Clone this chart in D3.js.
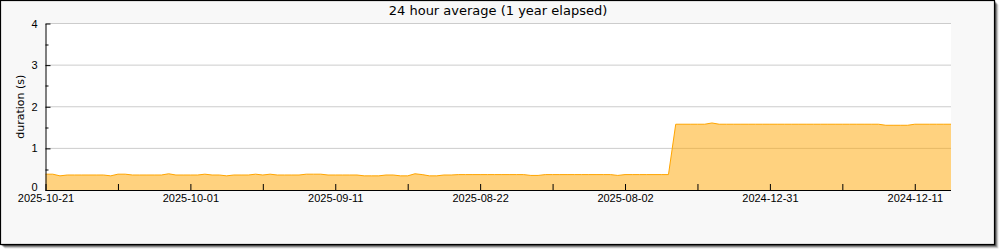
<!DOCTYPE html>
<html>
<head>
<meta charset="utf-8">
<script src="https://cdn.jsdelivr.net/npm/d3@7"></script>
<style>
  body { margin: 0; background: #fff; }
  svg { display: block; font-family: "DejaVu Sans", sans-serif; }
</style>
</head>
<body>
<svg width="1000" height="250"></svg>
<script>
// days elapsed counted from the newest sample (left edge)
var values = [
    0.38, 0.38, 0.34, 0.36, 0.36, 0.36, 0.36, 0.36, 0.36, 0.34,
    0.38, 0.38, 0.36, 0.36, 0.36, 0.36, 0.36, 0.39, 0.36, 0.36,
    0.36, 0.36, 0.38, 0.36, 0.36, 0.34, 0.36, 0.36, 0.36, 0.38,
    0.36, 0.38, 0.36, 0.36, 0.36, 0.36, 0.38, 0.38, 0.38, 0.36,
    0.36, 0.36, 0.36, 0.36, 0.34, 0.34, 0.34, 0.36, 0.36, 0.34,
    0.34, 0.39, 0.37, 0.34, 0.34, 0.36, 0.36, 0.37, 0.37, 0.37,
    0.37, 0.37, 0.37, 0.37, 0.37, 0.37, 0.37, 0.35, 0.35, 0.37,
    0.37, 0.37, 0.37, 0.37, 0.37, 0.37, 0.37, 0.37, 0.37, 0.35,
    0.37, 0.37, 0.37, 0.37, 0.37, 0.37, 0.37, 1.58, 1.58, 1.58,
    1.58, 1.58, 1.61, 1.58, 1.58, 1.58, 1.58, 1.58, 1.58, 1.58,
    1.58, 1.58, 1.58, 1.58, 1.58, 1.58, 1.58, 1.58, 1.58, 1.58,
    1.58, 1.58, 1.58, 1.58, 1.58, 1.58, 1.555, 1.555, 1.555, 1.555,
    1.58, 1.58, 1.58, 1.58, 1.58, 1.58
];
var days = values.map(function(v, i) { return i; });

var xTickDays = [0, 10, 20, 30, 40, 50, 60, 70, 80, 90, 100, 110, 120];
var xTickLabels = ["2025-10-21", "", "2025-10-01", "", "2025-09-11", "", "2025-08-22",
                   "", "2025-08-02", "", "2024-12-31", "", "2024-12-11"];
var yTicks = [0, 1, 2, 3, 4];
var yMinorTicks = [0.5, 1.5, 2.5, 3.5];

var data = days.map(function(d, i) { return {day: d, v: values[i]}; });

var svg = d3.select("svg"),
    margin = {top: 23.5, right: 49, bottom: 60, left: 45.5},
    width = 951 - margin.left,
    height = 190 - margin.top;

// frame with shadow
[4, 3, 2, 1].forEach(function(o) {
    svg.append("rect")
        .attr("x", 0.5 + o).attr("y", 0.5 + o)
        .attr("width", 994).attr("height", 244)
        .attr("fill", "#000")
        .attr("opacity", 0.12 * (5 - o));
});
svg.append("rect")
    .attr("x", 0.5).attr("y", 0.5)
    .attr("width", 994).attr("height", 244)
    .attr("fill", "#f8f8f8")
    .attr("stroke", "#000")
    .attr("stroke-width", 1.2);

var x = d3.scaleLinear().domain([0, 125]).range([0, width]);
var y = d3.scaleLinear().domain([0, 4]).range([height, 0]);

var g = svg.append("g")
    .attr("transform", "translate(" + margin.left + "," + margin.top + ")");

g.append("rect")
    .attr("width", width).attr("height", height)
    .attr("fill", "#fff");

// grid
g.selectAll(".grid")
    .data(yTicks.slice(1))
    .enter().append("line")
    .attr("x1", 0).attr("x2", width)
    .attr("y1", function(d) { return y(d); })
    .attr("y2", function(d) { return y(d); })
    .attr("stroke", "#ccc");

var area = d3.area()
    .x(function(d) { return x(d.day); })
    .y0(y(0))
    .y1(function(d) { return y(d.v); });

var line = d3.line()
    .x(function(d) { return x(d.day); })
    .y(function(d) { return y(d.v); });

g.append("path")
    .datum(data)
    .attr("d", area)
    .attr("fill", "#ffa500")
    .attr("fill-opacity", 0.5);

g.append("path")
    .datum(data)
    .attr("d", line)
    .attr("fill", "none")
    .attr("stroke", "#ffa500")
    .attr("stroke-width", 1);

// x axis, ticks pointing inward
var xAxis = g.append("g")
    .attr("transform", "translate(0," + height + ")")
    .call(d3.axisBottom(x)
        .tickValues(xTickDays)
        .tickSizeInner(-6)
        .tickSizeOuter(0)
        .tickPadding(4)
        .tickFormat(function(d, i) { return xTickLabels[i]; }));
xAxis.select(".domain").attr("stroke", "#000").attr("d", "M0,0.5H" + width);
xAxis.selectAll("text").attr("font-size", 11).attr("fill", "#000");

// y axis
var yAxis = g.append("g")
    .call(d3.axisLeft(y)
        .tickValues(yTicks)
        .tickSizeInner(-5)
        .tickSizeOuter(0)
        .tickPadding(8)
        .tickFormat(d3.format("d")));
yAxis.selectAll("text").attr("font-size", 11).attr("fill", "#000");
yAxis.selectAll(".tick text").filter(function(d) { return d === 0; }).attr("dy", "0.05em");

g.selectAll(".minor")
    .data(yMinorTicks)
    .enter().append("line")
    .attr("x1", 0).attr("x2", 3)
    .attr("y1", function(d) { return Math.round(y(d)) + 0.5; })
    .attr("y2", function(d) { return Math.round(y(d)) + 0.5; })
    .attr("stroke", "#000");

// title
svg.append("text")
    .attr("x", 498)
    .attr("y", 15)
    .attr("text-anchor", "middle")
    .style("font-size", "13px")
    .text("24 hour average (1 year elapsed)");

// y label
svg.append("text")
    .attr("transform", "rotate(-90)")
    .attr("x", -(margin.top + height / 2))
    .attr("y", 24)
    .attr("text-anchor", "middle")
    .style("font-size", "11px")
    .text("duration (s)");
</script>
</body>
</html>
